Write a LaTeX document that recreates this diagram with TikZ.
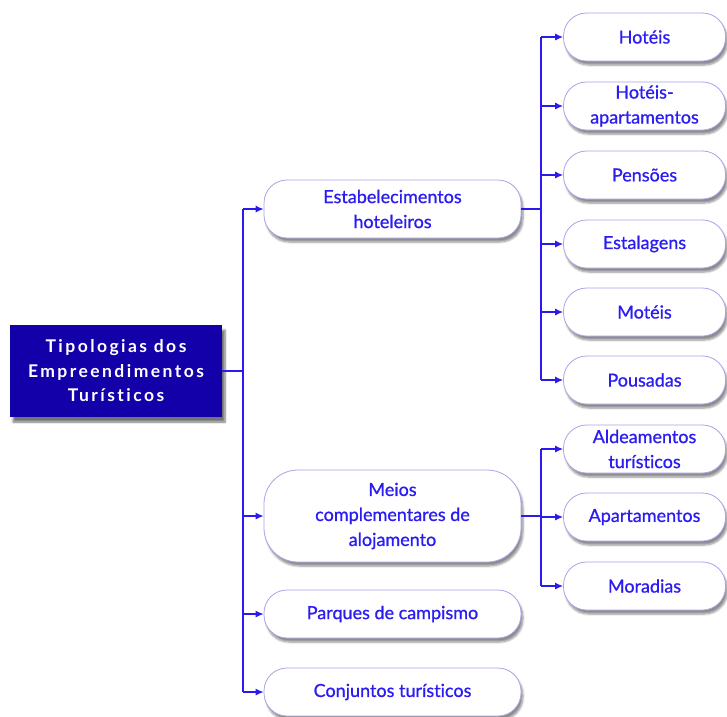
\documentclass[tikz,border=0pt]{standalone}
\usepackage{fontspec}
\setmainfont{Lato}[Ligatures=NoCommon]
\usetikzlibrary{shadows.blur,arrows.meta}
\definecolor{linkblue}{HTML}{2A1AF0}
\definecolor{textblue}{HTML}{2B1CF2}
\definecolor{rootblue}{HTML}{1400A8}
\definecolor{edgelav}{HTML}{A8A4E8}
\begin{document}
\begin{tikzpicture}[x=1pt,y=-1pt,
  item/.style={draw=edgelav,line width=0.8pt,fill=white,rounded corners=23pt,
    text=textblue,align=center,font=\fontsize{18}{25}\selectfont\addfontfeatures{FakeBold=0.8},
    minimum height=48pt,inner sep=2pt,
    blur shadow={shadow xshift=2pt,shadow yshift=-4pt,shadow blur steps=6,shadow opacity=45}},
  mid/.style={item,minimum width=257pt},
  leaf/.style={item,minimum width=162pt},
  rootbox/.style={draw=none,fill=rootblue,text=white,align=center,
    minimum width=212pt,minimum height=92pt,
    font=\fontsize{17.5}{24.5}\selectfont\bfseries\addfontfeatures{LetterSpace=14},
    blur shadow={shadow xshift=3pt,shadow yshift=-5pt,shadow blur steps=6,shadow opacity=55}},
  link/.style={draw=linkblue,line width=1.2pt,-{Latex[length=8pt,width=7pt]}},
  trunk/.style={draw=linkblue,line width=1.2pt}]
\useasboundingbox (0,0) rectangle (727,716);

% root
\node[rootbox] (root) at (116,371) {Tipologias dos\\Empreendimentos\\Turísticos};

% first level
\node[mid,minimum height=58pt] (est) at (392.5,209) {Estabelecimentos\\hoteleiros};
\node[mid,minimum height=92pt,rounded corners=34pt] (meios) at (392.5,516) {Meios\\complementares de\\alojamento};
\node[mid] (parq) at (392.5,614) {Parques de campismo};
\node[mid] (conj) at (392.5,692) {Conjuntos turísticos};

% second level, hotel types
\node[leaf] (hot) at (644.5,37) {Hotéis};
\node[leaf] (hotap) at (644.5,106) {Hotéis-\\apartamentos};
\node[leaf] (pens) at (644.5,175) {Pensões};
\node[leaf] (estal) at (644.5,244) {Estalagens};
\node[leaf] (mot) at (644.5,312) {Motéis};
\node[leaf] (pous) at (644.5,380) {Pousadas};

% second level, complementary lodging
\node[leaf] (ald) at (644.5,449) {Aldeamentos\\turísticos};
\node[leaf] (apt) at (644.5,517) {Apartamentos};
\node[leaf] (mor) at (644.5,586) {Moradias};

% trunk from the root
\coordinate (t0) at (243,371);
\draw[trunk] (root.east) -- (t0);
\draw[trunk] (243,209) -- (243,692);
\foreach \n in {est,meios,parq,conj}
  \draw[link] (243,0 |- \n.west) -- (\n.west);

% trunk from hotel establishments
\draw[trunk] (est.east) -- (541,0 |- est.east);
\draw[trunk] (541,37) -- (541,380);
\foreach \n in {hot,hotap,pens,estal,mot,pous}
  \draw[link] (541,0 |- \n.west) -- (\n.west);

% trunk from complementary lodging
\draw[trunk] (meios.east) -- (541,0 |- meios.east);
\draw[trunk] (541,449) -- (541,586);
\foreach \n in {ald,apt,mor}
  \draw[link] (541,0 |- \n.west) -- (\n.west);
\end{tikzpicture}
\end{document}
